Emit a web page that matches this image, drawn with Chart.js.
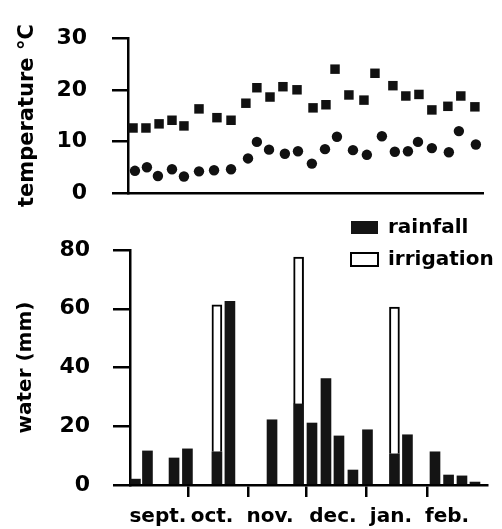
<!DOCTYPE html>
<html>
<head>
<meta charset="utf-8">
<script src="https://cdn.jsdelivr.net/npm/chart.js@4"></script>
<style>
    html, body { margin: 0; padding: 0; background: #fff; }
    .panel { position: absolute; left: 0; top: 0; width: 502px; height: 529px; }
</style>
</head>
<body>
<div class="panel"><canvas id="tempChart"></canvas></div>
<div class="panel"><canvas id="waterChart"></canvas></div>
<script>
// ---------------- DATA ----------------
// x values are days counted from 1 September
const maxTempDays = [2.6, 9.3, 16.1, 22.8, 29.0, 36.8, 46.1, 53.4, 61.1, 66.8, 73.6, 80.3, 87.6,
                     95.9, 102.6, 107.3, 114.5, 122.3, 128.0, 137.3, 144.0, 150.8, 157.5, 165.8, 172.5, 179.8];
const maxTemp = [12.6, 12.6, 13.4, 14.1, 13.0, 16.3, 14.6, 14.1, 17.4, 20.4, 18.6, 20.6, 20.0,
                 16.5, 17.1, 24.0, 19.0, 18.0, 23.2, 20.8, 18.8, 19.1, 16.1, 16.8, 18.8, 16.7];

const minTempDays = [3.6, 9.8, 15.5, 22.8, 29.0, 36.8, 44.6, 53.4, 62.2, 66.8, 73.1, 81.3, 88.1,
                     95.3, 102.1, 108.3, 116.6, 123.8, 131.6, 138.3, 145.1, 150.3, 157.5, 166.3, 171.5, 180.3];
const minTemp = [4.3, 5.0, 3.3, 4.6, 3.2, 4.2, 4.4, 4.6, 6.7, 9.9, 8.4, 7.6, 8.1,
                 5.7, 8.5, 10.9, 8.3, 7.4, 11.0, 8.0, 8.1, 9.9, 8.7, 7.9, 12.0, 9.4];

const rainDays = [2.8, 9.0, 22.7, 29.6, 44.8, 51.5, 73.2, 86.9, 93.8, 101.0,
                  107.7, 114.9, 122.4, 136.3, 143.0, 157.2, 164.2, 171.1, 177.8];
const rainfall = [2, 11.6, 9.2, 12.3, 11.3, 62.5, 22.2, 27.6, 21.1, 36.2,
                  16.7, 5.1, 18.8, 10.6, 17.1, 11.3, 3.4, 3.1, 1];

const irrigationDays = [44.8, 86.9, 136.3];
const irrigation = [50, 50, 50];

const monthEdges = [30, 61, 91, 122, 153];
const monthMids = [14.4, 42.3, 72.2, 104.6, 134.5, 163.4];
const monthLabels = ["sept.", "oct.", "nov.", "dec.", "jan.", "feb."];

const tempTicks = [0, 10, 20, 30];
const waterTicks = [0, 20, 40, 60, 80];
const dayMax = 184;

// ---------------- HELPERS ----------------
Chart.defaults.font.family = "'DejaVu Sans', sans-serif";
Chart.defaults.font.weight = "bold";
Chart.defaults.color = "#000";

const toPoints = (xs, ys) => xs.map((x, i) => ({ x: x, y: ys[i] }));
const setTicks = list => scale => { scale.ticks = list.map(v => ({ value: v })); };

// legend sits above the plot on the right, two rows
const legendPlacer = {
    id: "legendPlacer",
    afterLayout(chart, args, opts) {
        const lg = chart.legend;
        if (!lg) return;
        lg.left = opts.x;
        lg.top = opts.y;
        lg.right = opts.x + lg.width;
        lg.bottom = opts.y + lg.height;
    }
};

// ---------------- TEMPERATURE ----------------
new Chart(document.getElementById("tempChart"), {
    type: "scatter",
    data: {
        datasets: [
            {
                label: "max",
                data: toPoints(maxTempDays, maxTemp),
                pointStyle: "rect",
                pointRadius: 6.7,
                backgroundColor: "#111",
                borderWidth: 0,
                clip: false
            },
            {
                label: "min",
                data: toPoints(minTempDays, minTemp),
                pointStyle: "circle",
                pointRadius: 5.2,
                backgroundColor: "#111",
                borderWidth: 0,
                clip: false
            }
        ]
    },
    options: {
        responsive: true,
        maintainAspectRatio: false,
        animation: false,
        layout: { padding: { top: 19, right: 19, left: 0, bottom: 0 } },
        plugins: { legend: { display: false }, tooltip: { enabled: false } },
        scales: {
            x: {
                type: "linear",
                min: 0,
                max: dayMax,
                ticks: { display: false },
                grid: { drawOnChartArea: false, drawTicks: false },
                border: { display: true, color: "#000", width: 2.5 },
                afterFit: s => { s.height = 336; }
            },
            y: {
                min: tempTicks[0],
                max: tempTicks[tempTicks.length - 1],
                afterBuildTicks: setTicks(tempTicks),
                ticks: { font: { size: 22 }, padding: 25 },
                grid: { drawOnChartArea: false, tickLength: 16, color: "#000", lineWidth: 2.5 },
                border: { display: true, color: "#000", width: 2.5 },
                title: {
                    display: true,
                    text: "temperature °C",
                    font: { size: 21 },
                    padding: { top: 15, bottom: 0 }
                },
                afterFit: s => { s.width = 128; }
            }
        }
    }
});

// ---------------- WATER ----------------
new Chart(document.getElementById("waterChart"), {
    type: "bar",
    data: {
        datasets: [
            {
                label: "rainfall",
                data: toPoints(rainDays, rainfall),
                backgroundColor: "#141414",
                borderWidth: 0,
                barThickness: 10
            },
            {
                label: "irrigation",
                data: toPoints(irrigationDays, irrigation),
                backgroundColor: "#fff",
                borderColor: "#000",
                borderWidth: 2,
                barThickness: 10
            }
        ]
    },
    plugins: [legendPlacer],
    options: {
        responsive: true,
        maintainAspectRatio: false,
        animation: false,
        layout: { padding: { top: 250, right: 15, left: 0, bottom: 0 } },
        plugins: {
            tooltip: { enabled: false },
            legend: {
                position: "chartArea",
                align: "start",
                labels: { boxWidth: 27, boxHeight: 13, padding: 12, font: { size: 20 }, color: "#000" }
            },
            legendPlacer: { x: 339, y: 205.5 }
        },
        scales: {
            x: {
                type: "linear",
                stacked: true,
                offset: false,
                min: 0,
                max: dayMax,
                afterBuildTicks: scale => {
                    scale.ticks = monthEdges.concat(monthMids)
                        .sort((a, b) => a - b)
                        .map(v => ({ value: v }));
                },
                ticks: {
                    autoSkip: false,
                    maxRotation: 0,
                    padding: 8,
                    font: { size: 20 },
                    callback: v => {
                        const i = monthMids.indexOf(v);
                        return i >= 0 ? monthLabels[i] : "";
                    }
                },
                grid: {
                    offset: false,
                    drawOnChartArea: false,
                    tickLength: 12,
                    lineWidth: 2.5,
                    color: ctx => (ctx.tick && monthEdges.includes(ctx.tick.value)) ? "#000" : "rgba(0,0,0,0)"
                },
                border: { display: true, color: "#000", width: 2.5 },
                afterFit: s => { s.height = 44; }
            },
            y: {
                stacked: true,
                min: waterTicks[0],
                max: waterTicks[waterTicks.length - 1],
                afterBuildTicks: setTicks(waterTicks),
                ticks: { font: { size: 22 }, padding: 23 },
                grid: { drawOnChartArea: false, tickLength: 17, color: "#000", lineWidth: 2.5 },
                border: { display: true, color: "#000", width: 2.5 },
                title: {
                    display: true,
                    text: "water (mm)",
                    font: { size: 20 },
                    padding: { top: 14, bottom: 0 }
                },
                afterFit: s => { s.width = 130; }
            }
        }
    }
});
</script>
</body>
</html>
